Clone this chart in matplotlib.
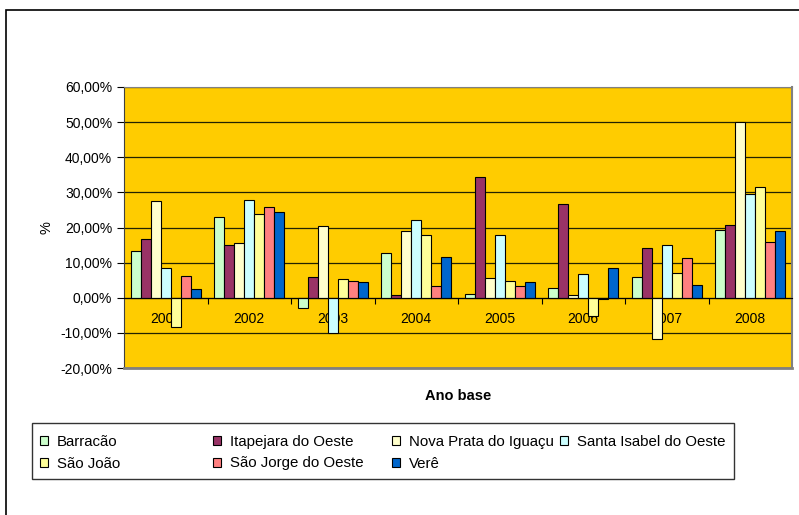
import matplotlib
matplotlib.use("Agg")
import matplotlib.pyplot as plt
import numpy as np
from matplotlib.patches import Rectangle
from matplotlib.ticker import FuncFormatter, MultipleLocator, FixedLocator

plt.rcParams['font.family'] = ['Liberation Sans', 'DejaVu Sans']

years = ['2001', '2002', '2003', '2004', '2005', '2006', '2007', '2008']
series_names = ['Barracão', 'Itapejara do Oeste', 'Nova Prata do Iguaçu',
                'Santa Isabel do Oeste', 'São João', 'São Jorge do Oeste', 'Verê']
barracao = [13.3, 23.1, -2.9, 12.7, 1.1, 2.9, 6.0, 19.3]
itapejara = [16.7, 14.9, 6.0, 0.9, 34.5, 26.7, 14.1, 20.8]
nova_prata = [27.5, 15.6, 20.5, 18.9, 5.6, 0.9, -11.8, 49.9]
santa_isabel = [8.5, 27.9, -10.0, 22.2, 17.9, 6.7, 14.9, 29.6]
sao_joao = [-8.2, 23.8, 5.3, 17.9, 4.8, -5.2, 7.1, 31.6]
sao_jorge = [6.3, 25.7, 4.8, 3.3, 3.3, -0.3, 11.2, 16.0]
vere = [2.4, 24.5, 4.5, 11.5, 4.4, 8.5, 3.7, 19.0]
colors = ['#CCFFCC', '#993366', '#FFFFCC', '#CCFFFF', '#FFFF99', '#FF8080', '#0066CC']

all_series = [barracao, itapejara, nova_prata, santa_isabel, sao_joao, sao_jorge, vere]

W, H = 799, 515
fig = plt.figure(figsize=(W / 100, H / 100), dpi=100)
fig.patch.set_facecolor('white')

# outer chart border
fig.patches.append(Rectangle((6 / W, -0.05), 1.2, 1 - 10 / H + 0.05, transform=fig.transFigure,
                             fill=False, edgecolor='black', linewidth=1.2, zorder=0))

ax = fig.add_axes([124 / W, 1 - 368 / H, 668 / W, 281 / H])
ax.set_facecolor('#FFCC00')

x = np.arange(len(years))
bw = 0.12
n = len(all_series)
handles = []
for i, (vals, c, name) in enumerate(zip(all_series, colors, series_names)):
    b = ax.bar(x + (i - (n - 1) / 2) * bw, vals, width=bw, color=c, edgecolor='black',
               linewidth=0.8, label=name, zorder=3)
    handles.append(b)

ax.set_xlim(-0.5, len(years) - 0.5)
ax.set_ylim(-20, 60)
ax.yaxis.set_major_locator(MultipleLocator(10))
ax.yaxis.set_major_formatter(FuncFormatter(lambda v, p: ('%.2f' % v).replace('.', ',') + '%'))
ax.grid(axis='y', color='#222200', linewidth=0.9, zorder=1)
ax.tick_params(axis='y', direction='out', length=5, labelsize=10, colors='black', width=0.8)

ax.set_xticks(x)
ax.set_xticklabels(years)
ax.xaxis.set_minor_locator(FixedLocator(np.arange(0.5, len(years) - 0.5, 1)))
ax.tick_params(axis='x', which='major', length=0, labelsize=10, pad=10.5)
ax.tick_params(axis='x', which='minor', length=4, direction='out', width=0.8)

ax.spines['bottom'].set_position(('data', 0))
ax.spines['bottom'].set_color('black')
ax.spines['bottom'].set_zorder(4)
ax.spines['left'].set_color('#404040')
ax.spines['top'].set_color('#808080')
ax.spines['right'].set_color('#808080')
ax.spines['right'].set_linewidth(1.5)
ax.axhline(-20, color='#808080', linewidth=2, zorder=5, clip_on=False)

ax.set_ylabel('%', fontsize=10.5)
ax.yaxis.set_label_coords(-0.105, 0.5)
fig.text(458 / W, 1 - 396 / H, 'Ano base', ha='center', va='center', fontsize=10.5, fontweight='bold')

# legend: row-major layout, one legend per column
col_x = [40, 213, 392, 560]
cols = [[0, 4], [1, 5], [2, 6], [3]]
for cx, idxs in zip(col_x, cols):
    lg = fig.legend([handles[k] for k in idxs], [series_names[k] for k in idxs],
                    loc='upper left', bbox_to_anchor=(cx / W, 1 - 435 / H),
                    frameon=False, fontsize=10.8, handlelength=0.55, handleheight=0.55,
                    handletextpad=0.6, borderpad=0, borderaxespad=0, labelspacing=0.5)
fig.patches.append(Rectangle((32 / W, 1 - 479 / H), 702 / W, 56 / H, transform=fig.transFigure,
                             fill=False, edgecolor='#333333', linewidth=1.0, zorder=1))

fig.savefig('out.png', dpi=100)
